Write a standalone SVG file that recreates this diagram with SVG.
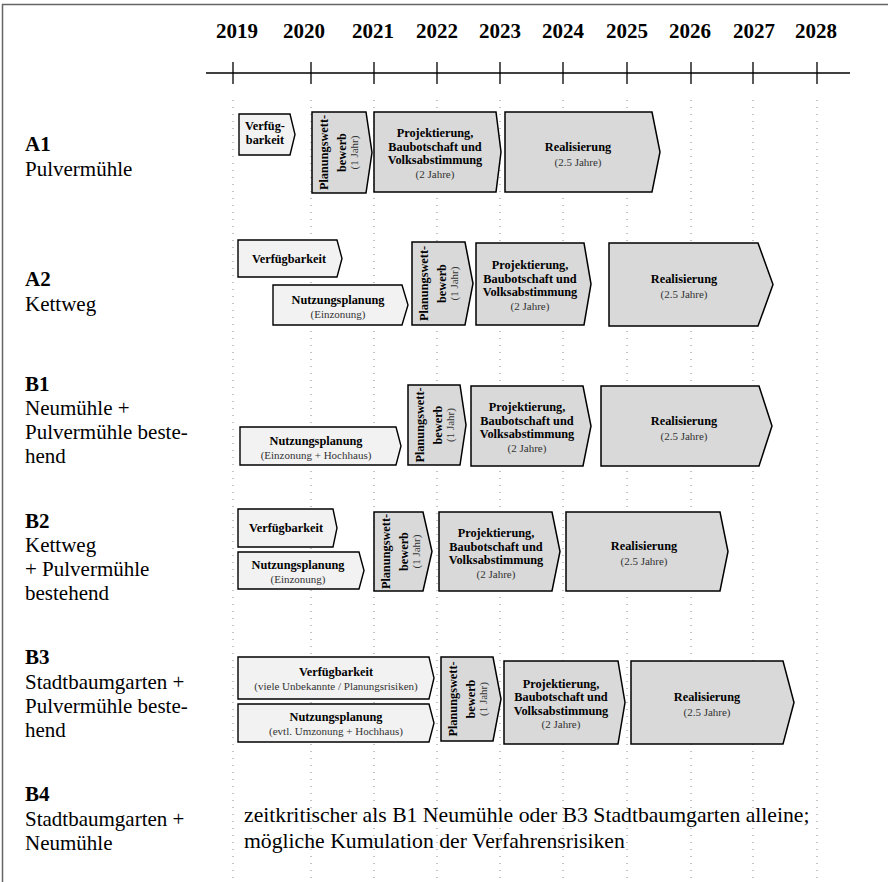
<svg xmlns="http://www.w3.org/2000/svg" width="888" height="882" viewBox="0 0 888 882" font-family="'Liberation Serif', 'DejaVu Serif', serif">
<style>
text{font-family:'Liberation Serif','DejaVu Serif',serif;fill:#000}
.yr{font-size:21px;font-weight:bold;text-anchor:middle}
.lb{font-size:21px}
.nt{font-size:21.7px}
.lbb{font-size:21px;font-weight:bold}
.lt{fill:#f2f2f2;stroke:#000;stroke-width:1.4;stroke-linejoin:miter}
.dk{fill:#d9d9d9;stroke:#000;stroke-width:1.5;stroke-linejoin:miter}
.b{font-size:12.3px;font-weight:bold;text-anchor:middle}
.s{font-size:11px;text-anchor:middle;fill:#333}
.grid{stroke:#888;stroke-width:1;stroke-dasharray:1 6}
.ax{stroke:#000;stroke-width:1.3}
</style>
<rect width="888" height="882" fill="#fff"/>
<path d="M2.5 882V4.5H888" fill="none" stroke="#666" stroke-width="1.5"/>
<g id="years">
<text class="yr" x="237" y="38">2019</text>
<text class="yr" x="304" y="38">2020</text>
<text class="yr" x="373" y="38">2021</text>
<text class="yr" x="437" y="38">2022</text>
<text class="yr" x="500" y="38">2023</text>
<text class="yr" x="563" y="38">2024</text>
<text class="yr" x="627" y="38">2025</text>
<text class="yr" x="690" y="38">2026</text>
<text class="yr" x="754" y="38">2027</text>
<text class="yr" x="816" y="38">2028</text>
</g>
<g id="axis">
<line class="ax" x1="206" y1="73" x2="850" y2="73"/>
<path class="ax" d="M233 62V84M311 62V84M374 62V84M437 62V84M500 62V84M563 62V84M627 62V84M691 62V84M753 62V84M817 62V84"/>
</g>
<g id="grid">
<path class="grid" d="M233 100V882M311 100V882M374 100V882M437 100V882M500 100V882M563 100V882M627 100V882M691 100V882M753 100V882M817 100V882"/>
</g>
<g id="labels">
<text class="lbb" x="25" y="151">A1</text>
<text class="lb" x="25" y="176">Pulvermühle</text>
<text class="lbb" x="25" y="286">A2</text>
<text class="lb" x="25" y="311">Kettweg</text>
<text class="lbb" x="25" y="391">B1</text>
<text class="lb" x="25" y="415">Neumühle +</text>
<text class="lb" x="25" y="439">Pulvermühle beste-</text>
<text class="lb" x="25" y="463">hend</text>
<text class="lbb" x="25" y="528">B2</text>
<text class="lb" x="25" y="552">Kettweg</text>
<text class="lb" x="25" y="576">+ Pulvermühle</text>
<text class="lb" x="25" y="600">bestehend</text>
<text class="lbb" x="25" y="664">B3</text>
<text class="lb" x="25" y="689">Stadtbaumgarten +</text>
<text class="lb" x="25" y="713">Pulvermühle beste-</text>
<text class="lb" x="25" y="737">hend</text>
<text class="lbb" x="25" y="801">B4</text>
<text class="lb" x="25" y="826">Stadtbaumgarten +</text>
<text class="lb" x="25" y="850">Neumühle</text>
</g>
<!-- A1 -->
<g id="a1-verf"><polygon class="lt" points="239,114 290,114 295,134.5 290,155 239,155"/>
<text class="b" x="265" y="130">Verfüg-</text><text class="b" x="265" y="143.5">barkeit</text></g>
<g id="a1-plan"><polygon class="dk" points="312,112 366,112 372,152.5 366,193 312,193"/>
<text class="b" transform="translate(327.5,152.5) rotate(-90)">Planungswett-</text>
<text class="b" transform="translate(346,152.5) rotate(-90)">bewerb</text>
<text class="s" transform="translate(358,152.5) rotate(-90)">(1 Jahr)</text></g>
<g id="a1-proj"><polygon class="dk" points="374,112 496,112 501,152 496,192 374,192"/>
<text class="b" x="435" y="137">Projektierung,</text><text class="b" x="435" y="150.5">Baubotschaft und</text>
<text class="b" x="435" y="164">Volksabstimmung</text><text class="s" x="435" y="177.5">(2 Jahre)</text></g>
<g id="a1-real"><polygon class="dk" points="505,112 652,112 660,152 652,192 505,192"/>
<text class="b" x="578" y="150.5">Realisierung</text><text class="s" x="578" y="165.5">(2.5 Jahre)</text></g>
<!-- A2 -->
<g id="a2-verf"><polygon class="lt" points="238,240 337,240 342,258.5 337,277 238,277"/>
<text class="b" x="289" y="262.5">Verfügbarkeit</text></g>
<g id="a2-nutz"><polygon class="lt" points="273,285 402,285 408,305 402,325 273,325"/>
<text class="b" x="338" y="304">Nutzungsplanung</text><text class="s" x="338" y="318">(Einzonung)</text></g>
<g id="a2-plan"><polygon class="dk" points="412,242 465,242 473,283.5 465,325 412,325"/>
<text class="b" transform="translate(427.5,283.5) rotate(-90)">Planungswett-</text>
<text class="b" transform="translate(446,283.5) rotate(-90)">bewerb</text>
<text class="s" transform="translate(458,283.5) rotate(-90)">(1 Jahr)</text></g>
<g id="a2-proj"><polygon class="dk" points="476,243 584,243 591,284 584,325 476,325"/>
<text class="b" x="530" y="269">Projektierung,</text><text class="b" x="530" y="282.5">Baubotschaft und</text>
<text class="b" x="530" y="296">Volksabstimmung</text><text class="s" x="530" y="309.5">(2 Jahre)</text></g>
<g id="a2-real"><polygon class="dk" points="609,243 758,243 773,284.5 758,326 609,326"/>
<text class="b" x="684" y="283">Realisierung</text><text class="s" x="684" y="298">(2.5 Jahre)</text></g>
<!-- B1 -->
<g id="b1-nutz"><polygon class="lt" points="240,427 396,427 401,446 396,465 240,465"/>
<text class="b" x="316" y="445">Nutzungsplanung</text><text class="s" x="316" y="459">(Einzonung + Hochhaus)</text></g>
<g id="b1-plan"><polygon class="dk" points="408,385 460,385 466,425 460,465 408,465"/>
<text class="b" transform="translate(423.5,425) rotate(-90)">Planungswett-</text>
<text class="b" transform="translate(442,425) rotate(-90)">bewerb</text>
<text class="s" transform="translate(454,425) rotate(-90)">(1 Jahr)</text></g>
<g id="b1-proj"><polygon class="dk" points="471,386 583,386 591,426 583,466 471,466"/>
<text class="b" x="527" y="411">Projektierung,</text><text class="b" x="527" y="424.5">Baubotschaft und</text>
<text class="b" x="527" y="438">Volksabstimmung</text><text class="s" x="527" y="451.5">(2 Jahre)</text></g>
<g id="b1-real"><polygon class="dk" points="601,386 759,386 772,426 759,466 601,466"/>
<text class="b" x="684" y="424.5">Realisierung</text><text class="s" x="684" y="439.5">(2.5 Jahre)</text></g>
<!-- B2 -->
<g id="b2-verf"><polygon class="lt" points="238,509 333,509 337,528 333,547 238,547"/>
<text class="b" x="286" y="532">Verfügbarkeit</text></g>
<g id="b2-nutz"><polygon class="lt" points="238,552 359,552 364,570.5 359,589 238,589"/>
<text class="b" x="298" y="569">Nutzungsplanung</text><text class="s" x="298" y="583">(Einzonung)</text></g>
<g id="b2-plan"><polygon class="dk" points="374,512 423,512 432,551.5 423,591 374,591"/>
<text class="b" transform="translate(389.5,551.5) rotate(-90)">Planungswett-</text>
<text class="b" transform="translate(408,551.5) rotate(-90)">bewerb</text>
<text class="s" transform="translate(420,551.5) rotate(-90)">(1 Jahr)</text></g>
<g id="b2-proj"><polygon class="dk" points="439,512 552,512 560,551.5 552,591 439,591"/>
<text class="b" x="496" y="537">Projektierung,</text><text class="b" x="496" y="550.5">Baubotschaft und</text>
<text class="b" x="496" y="564">Volksabstimmung</text><text class="s" x="496" y="577.5">(2 Jahre)</text></g>
<g id="b2-real"><polygon class="dk" points="566,512 720,512 728,551.5 720,591 566,591"/>
<text class="b" x="644" y="550">Realisierung</text><text class="s" x="644" y="565">(2.5 Jahre)</text></g>
<!-- B3 -->
<g id="b3-verf"><polygon class="lt" points="238,657 429,657 434,678 429,699 238,699"/>
<text class="b" x="336" y="676">Verfügbarkeit</text><text class="s" x="336" y="690">(viele Unbekannte / Planungsrisiken)</text></g>
<g id="b3-nutz"><polygon class="lt" points="238,704 429,704 434,723 429,742 238,742"/>
<text class="b" x="336" y="721">Nutzungsplanung</text><text class="s" x="336" y="735">(evtl. Umzonung + Hochhaus)</text></g>
<g id="b3-plan"><polygon class="dk" points="441,657 493,657 501,699 493,741 441,741"/>
<text class="b" transform="translate(456.5,699) rotate(-90)">Planungswett-</text>
<text class="b" transform="translate(475,699) rotate(-90)">bewerb</text>
<text class="s" transform="translate(487,699) rotate(-90)">(1 Jahr)</text></g>
<g id="b3-proj"><polygon class="dk" points="504,661 618,661 625,702.5 618,744 504,744"/>
<text class="b" x="561" y="687.5">Projektierung,</text><text class="b" x="561" y="701">Baubotschaft und</text>
<text class="b" x="561" y="714.5">Volksabstimmung</text><text class="s" x="561" y="728">(2 Jahre)</text></g>
<g id="b3-real"><polygon class="dk" points="631,661 783,661 794,702.5 783,744 631,744"/>
<text class="b" x="707" y="701">Realisierung</text><text class="s" x="707" y="716">(2.5 Jahre)</text></g>
<!-- B4 -->
<g id="b4-note">
<text class="nt" x="244" y="822">zeitkritischer als B1 Neumühle oder B3 Stadtbaumgarten alleine;</text>
<text class="nt" x="244" y="848">mögliche Kumulation der Verfahrensrisiken</text>
</g>
</svg>
